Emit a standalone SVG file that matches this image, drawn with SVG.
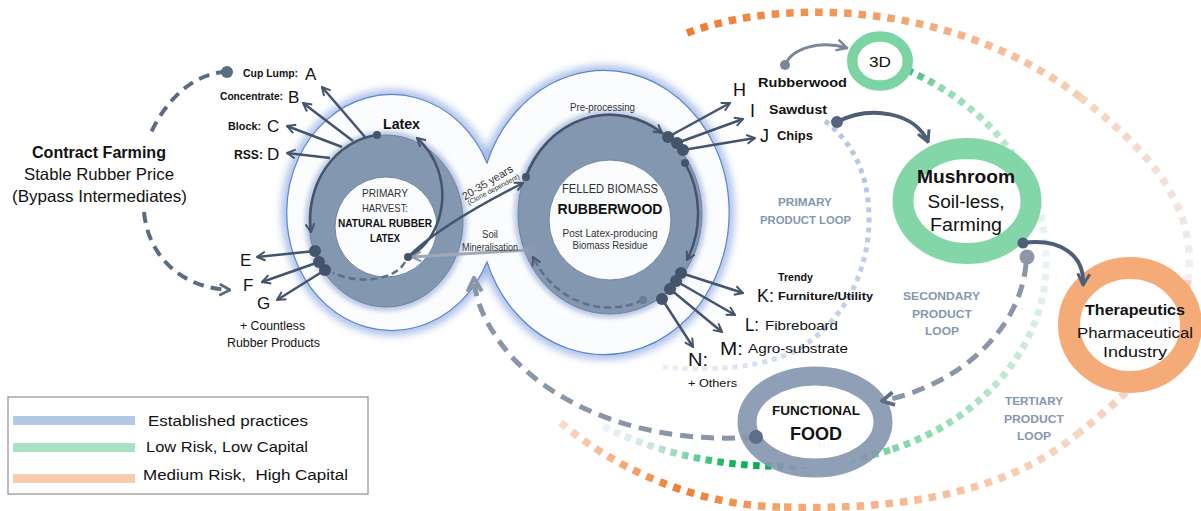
<svg xmlns="http://www.w3.org/2000/svg" width="1201" height="511" viewBox="0 0 1201 511">
<style>
text{font-family:"Liberation Sans",Arial,sans-serif;fill:#111}
.b{font-weight:bold}
.m{text-anchor:middle}
.grey{fill:#333}
.loop{font-weight:bold;fill:#8497b0;font-size:11px;text-anchor:middle}
.ln{fill:none;stroke:#44546a;stroke-width:2.5}
.dot{fill:#44546a}
</style>
<defs>
<filter id="glow" x="-20%" y="-20%" width="140%" height="140%"><feGaussianBlur stdDeviation="4"/></filter>
<filter id="glow2" x="-20%" y="-20%" width="140%" height="140%"><feGaussianBlur stdDeviation="2.5"/></filter>
<marker id="mDark" viewBox="0 0 10 10" refX="9" refY="5" markerWidth="11" markerHeight="11" markerUnits="userSpaceOnUse" orient="auto"><path d="M1.5,1 L9,5 L1.5,9" fill="none" stroke="#44546a" stroke-width="1.8"/></marker>
<marker id="mSlate" viewBox="0 0 10 10" refX="9" refY="5" markerWidth="15" markerHeight="15" markerUnits="userSpaceOnUse" orient="auto"><path d="M1.5,1 L9,5 L1.5,9" fill="none" stroke="#4f5e78" stroke-width="2"/></marker>
<marker id="mGrey" viewBox="0 0 10 10" refX="9" refY="5" markerWidth="18" markerHeight="18" markerUnits="userSpaceOnUse" orient="auto"><path d="M1.5,1 L9,5 L1.5,9" fill="none" stroke="#8a96a8" stroke-width="2.2"/></marker>
<marker id="mGrey2" viewBox="0 0 10 10" refX="9" refY="5" markerWidth="16" markerHeight="16" markerUnits="userSpaceOnUse" orient="auto"><path d="M1.5,1 L9,5 L1.5,9" fill="none" stroke="#5e6d85" stroke-width="2.4"/></marker>
<marker id="m3d" viewBox="0 0 10 10" refX="9" refY="5" markerWidth="14" markerHeight="14" markerUnits="userSpaceOnUse" orient="auto"><path d="M1.5,1 L9,5 L1.5,9" fill="none" stroke="#7a8699" stroke-width="1.8"/></marker>
<marker id="mSoil" viewBox="0 0 10 10" refX="9" refY="5" markerWidth="12" markerHeight="12" markerUnits="userSpaceOnUse" orient="auto"><path d="M1.5,1 L9,5 L1.5,9" fill="none" stroke="#8e99ab" stroke-width="1.8"/></marker>
<marker id="mCF" viewBox="0 0 10 10" refX="9" refY="5" markerWidth="14" markerHeight="14" markerUnits="userSpaceOnUse" orient="auto"><path d="M1.5,1 L9,5 L1.5,9" fill="none" stroke="#5b6b84" stroke-width="2"/></marker>
<linearGradient id="gBlue" gradientUnits="userSpaceOnUse" x1="850" y1="150" x2="660" y2="368"><stop offset="0" stop-color="#b4c7e7"/><stop offset="0.6" stop-color="#c8d6ee"/><stop offset="1" stop-color="#eaeff8"/></linearGradient>
<linearGradient id="gG1" gradientUnits="userSpaceOnUse" x1="907" y1="70" x2="1046" y2="250"><stop offset="0" stop-color="#3cb878"/><stop offset="0.15" stop-color="#8fdab0"/><stop offset="0.7" stop-color="#d3efe0"/><stop offset="1" stop-color="#eef4f6"/></linearGradient>
<linearGradient id="gG2" gradientUnits="userSpaceOnUse" x1="1046" y1="250" x2="890" y2="450"><stop offset="0" stop-color="#eef4f6"/><stop offset="0.5" stop-color="#bde7cf"/><stop offset="1" stop-color="#7fd6a3"/></linearGradient>
<linearGradient id="gG3" gradientUnits="userSpaceOnUse" x1="890" y1="0" x2="600" y2="0"><stop offset="0" stop-color="#7fd6a3"/><stop offset="0.45" stop-color="#00b050"/><stop offset="0.58" stop-color="#1eb862"/><stop offset="0.72" stop-color="#8fd8b6"/><stop offset="0.85" stop-color="#d3e8ea"/><stop offset="1" stop-color="#eef2fa"/></linearGradient>
<linearGradient id="gO1" gradientUnits="userSpaceOnUse" x1="687" y1="0" x2="1080" y2="0"><stop offset="0" stop-color="#ed7d31"/><stop offset="0.45" stop-color="#f09d62"/><stop offset="1" stop-color="#f6cfb6"/></linearGradient>
<linearGradient id="gO2" gradientUnits="userSpaceOnUse" x1="0" y1="97" x2="0" y2="280"><stop offset="0" stop-color="#f6d3bd"/><stop offset="1" stop-color="#eff0f5"/></linearGradient>
<linearGradient id="gO3" gradientUnits="userSpaceOnUse" x1="1080" y1="0" x2="780" y2="0"><stop offset="0" stop-color="#f8d8c4"/><stop offset="1" stop-color="#f3a46d"/></linearGradient>
<linearGradient id="gO4" gradientUnits="userSpaceOnUse" x1="780" y1="0" x2="560" y2="0"><stop offset="0" stop-color="#f3a46d"/><stop offset="0.45" stop-color="#ed7d31"/><stop offset="1" stop-color="#f9dccb"/></linearGradient>
</defs>

<rect width="1201" height="511" fill="#ffffff"/>

<g id="infinity-background">
<path d="M487,163 A105,118 0 1 0 487,262 A125,142 0 1 0 487,163 Z" fill="none" stroke="#9db5e3" stroke-width="9" filter="url(#glow)"/>
<path d="M487,163 A105,118 0 1 0 487,262 A125,142 0 1 0 487,163 Z" fill="#fbfcfe" stroke="#5b84cc" stroke-width="1.2"/>
</g>

<g id="loops" fill="none">
<path d="M825,121 C850,140 868,170 869,215 C870,270 845,320 800,348 C770,366 720,372 662,367" stroke="url(#gBlue)" stroke-width="5" stroke-dasharray="5 5"/>
<path d="M907,70 C975,100 1040,160 1046,250" stroke="url(#gG1)" stroke-width="7" stroke-dasharray="6.5 5.5"/>
<path d="M1046,250 C1052,340 985,420 890,450" stroke="url(#gG2)" stroke-width="7" stroke-dasharray="6.5 5.5"/>
<path d="M890,450 C800,478 690,470 600,425" stroke="url(#gG3)" stroke-width="7" stroke-dasharray="6.5 5.5"/>
<path d="M687,33 C790,-5 960,5 1080,97" stroke="url(#gO1)" stroke-width="7.5" stroke-dasharray="7.5 7"/>
<path d="M1080,97 C1175,170 1195,225 1188,280" stroke="url(#gO2)" stroke-width="7.5" stroke-dasharray="7.5 7"/>
<path d="M1188,280 C1180,340 1140,385 1080,432" stroke="#f5d2bc" stroke-width="7.5" stroke-dasharray="7.5 7"/>
<path d="M1080,432 C1000,500 880,510 780,507" stroke="url(#gO3)" stroke-width="7.5" stroke-dasharray="7.5 7"/>
<path d="M780,507 C690,505 610,465 560,422" stroke="url(#gO4)" stroke-width="7.5" stroke-dasharray="7.5 7"/>
</g>

<g id="latex-ring">
<ellipse cx="386" cy="221" rx="78" ry="87" fill="none" stroke="#a9bbdc" stroke-width="5" filter="url(#glow2)"/>
<path d="M309,221 a77,86 0 1,0 154,0 a77,86 0 1,0 -154,0 Z M335,227 a51,50 0 1,0 102,0 a51,50 0 1,0 -102,0 Z" fill="#8497b0" fill-rule="evenodd" stroke="#6f82a0" stroke-width="1"/>
<text x="385" y="197" font-size="11.5" class="m grey" textLength="46" lengthAdjust="spacingAndGlyphs">PRIMARY</text>
<text x="385" y="212" font-size="11.5" class="m grey" textLength="46" lengthAdjust="spacingAndGlyphs">HARVEST:</text>
<text x="385" y="227" font-size="11.5" class="m b" textLength="94" lengthAdjust="spacingAndGlyphs">NATURAL RUBBER</text>
<text x="385" y="242" font-size="11.5" class="m b" textLength="30" lengthAdjust="spacingAndGlyphs">LATEX</text>
</g>

<g id="rubberwood-ring">
<ellipse cx="610" cy="214" rx="93" ry="101" fill="none" stroke="#a9bbdc" stroke-width="5" filter="url(#glow2)"/>
<path d="M518,214 a92,100 0 1,0 184,0 a92,100 0 1,0 -184,0 Z M549,220 a61,60 0 1,0 122,0 a61,60 0 1,0 -122,0 Z" fill="#8497b0" fill-rule="evenodd" stroke="#6f82a0" stroke-width="1"/>
<text x="610" y="192.5" font-size="12" class="m grey" textLength="96" lengthAdjust="spacingAndGlyphs">FELLED BIOMASS</text>
<text x="610" y="213.5" font-size="15" class="m b" textLength="105" lengthAdjust="spacingAndGlyphs">RUBBERWOOD</text>
<text x="610" y="236.5" font-size="10.5" class="m grey" textLength="95" lengthAdjust="spacingAndGlyphs">Post Latex-producing</text>
<text x="610" y="248.5" font-size="10.5" class="m grey" textLength="75" lengthAdjust="spacingAndGlyphs">Biomass Residue</text>
</g>

<g id="node-3d">
<ellipse cx="880" cy="61" rx="27.8" ry="24.5" fill="#ffffff" stroke="#7bd4a2" stroke-width="10.5"/>
<text x="880" y="67" font-size="14" class="m" textLength="22" lengthAdjust="spacingAndGlyphs">3D</text>
</g>

<g id="node-mushroom">
<ellipse cx="967" cy="201" rx="64" ry="52.5" fill="#ffffff" stroke="#7bd4a2" stroke-width="21" stroke-opacity="0.95"/>
<text x="966" y="183" font-size="18" class="m b" textLength="98" lengthAdjust="spacingAndGlyphs">Mushroom</text>
<text x="966" y="208" font-size="17.5" class="m" textLength="77" lengthAdjust="spacingAndGlyphs">Soil-less,</text>
<text x="966" y="231" font-size="17.5" class="m" textLength="72" lengthAdjust="spacingAndGlyphs">Farming</text>
</g>

<g id="node-therapeutics">
<ellipse cx="1130" cy="325" rx="61" ry="57" fill="#ffffff" stroke="#f4a874" stroke-width="22" stroke-opacity="0.97"/>
<text x="1135" y="315" font-size="15.5" class="m b" textLength="100" lengthAdjust="spacingAndGlyphs">Therapeutics</text>
<text x="1135" y="338" font-size="15.5" class="m" textLength="116" lengthAdjust="spacingAndGlyphs">Pharmaceutical</text>
<text x="1135" y="357" font-size="15.5" class="m" textLength="64" lengthAdjust="spacingAndGlyphs">Industry</text>
</g>

<g id="node-food">
<ellipse cx="815" cy="422" rx="68" ry="46" fill="#ffffff" stroke="#8497b0" stroke-width="19" stroke-opacity="0.92"/>
<text x="816" y="415" font-size="12.5" class="m b" textLength="88" lengthAdjust="spacingAndGlyphs">FUNCTIONAL</text>
<text x="816" y="440" font-size="19" class="m b" textLength="52" lengthAdjust="spacingAndGlyphs">FOOD</text>
</g>

<g id="connectors">
<!-- contract farming dashed loop -->
<path d="M227,72 C195,72 165,100 150,135" fill="none" stroke="#5b6b84" stroke-width="4" stroke-dasharray="11 7"/>
<path d="M144,212 C148,255 180,288 230,290" fill="none" stroke="#5b6b84" stroke-width="4" stroke-dasharray="11 7" marker-end="url(#mCF)"/>
<circle cx="227" cy="72" r="6" fill="#5b6b84"/>
<!-- left ring arrows A-D -->
<path class="ln" d="M365,137 L322,87" marker-end="url(#mDark)"/>
<path class="ln" d="M353,141 L303,103" marker-end="url(#mDark)"/>
<path class="ln" d="M342,147 L287,126" marker-end="url(#mDark)"/>
<path class="ln" d="M330,158 L287,153" marker-end="url(#mDark)"/>
<path class="ln" d="M377,135 A76,85 0 0 0 311,232" marker-end="url(#mDark)"/>
<path class="ln" d="M408,257 C445,240 458,175 417,138" marker-end="url(#mDark)"/>
<path d="M405,262 C395,280 360,285 333,273" fill="none" stroke="#5f6f88" stroke-width="2.5" stroke-dasharray="7 4"/>
<circle class="dot" cx="377" cy="135" r="4"/>
<!-- E F G -->
<path class="ln" d="M315,251 L257,257" marker-end="url(#mDark)"/>
<path class="ln" d="M319,262 L262,282" marker-end="url(#mDark)"/>
<path class="ln" d="M325,270 L277,300" marker-end="url(#mDark)"/>
<circle class="dot" cx="315" cy="251" r="6"/>
<circle class="dot" cx="319" cy="262" r="6"/>
<circle class="dot" cx="325" cy="270" r="6"/>
<!-- 20-35 years -->
<path class="ln" d="M408,257 Q440,225 523,183" marker-end="url(#mDark)"/>
<!-- soil mineralisation -->
<path d="M528,250 L412,257" fill="none" stroke="#9ea8b8" stroke-width="3" marker-end="url(#mSoil)"/>
<circle cx="530" cy="251" r="6" fill="#8d9ab0" fill-opacity="0.8"/>
<circle class="dot" cx="408" cy="257" r="4"/>
<!-- right ring arcs -->
<path class="ln" d="M526,177 A90,98 0 0 1 662,133" marker-end="url(#mDark)"/>
<circle class="dot" cx="526" cy="177" r="4"/>
<path class="ln" d="M685,163 A88,96 0 0 1 687,260" marker-end="url(#mDark)"/>
<circle class="dot" cx="685" cy="163" r="4"/>
<path d="M643,300 A86,94 0 0 1 533,257" fill="none" stroke="#5f6f88" stroke-width="2.5" stroke-dasharray="7 4" marker-end="url(#mDark)"/>
<circle cx="643" cy="300" r="4" fill="#6b7b94"/>
<!-- H I J -->
<path class="ln" d="M668,137 L730,103" marker-end="url(#mDark)"/>
<path class="ln" d="M677,143 L743,119" marker-end="url(#mDark)"/>
<path class="ln" d="M683,150 L755,138" marker-end="url(#mDark)"/>
<circle class="dot" cx="668" cy="137" r="6"/>
<circle class="dot" cx="677" cy="143" r="6"/>
<circle class="dot" cx="683" cy="150" r="6"/>
<!-- K L M N -->
<path class="ln" d="M681,273 L743,293" marker-end="url(#mDark)"/>
<path class="ln" d="M676,281 L735,315" marker-end="url(#mDark)"/>
<path class="ln" d="M670,289 L722,332" marker-end="url(#mDark)"/>
<path class="ln" d="M662,299 L693,347" marker-end="url(#mDark)"/>
<circle class="dot" cx="681" cy="273" r="6"/>
<circle class="dot" cx="676" cy="281" r="6"/>
<circle class="dot" cx="670" cy="289" r="6"/>
<circle class="dot" cx="662" cy="299" r="6"/>
<!-- 3D arrow -->
<path d="M785,65 C792,48 820,40 847,48" fill="none" stroke="#7a8699" stroke-width="3" marker-end="url(#m3d)"/>
<circle cx="785" cy="65" r="5" fill="#7a8699"/>
<!-- sawdust to mushroom -->
<path d="M837,122 C870,105 915,112 928,142" fill="none" stroke="#4f5e78" stroke-width="4" marker-end="url(#mSlate)"/>
<circle cx="837" cy="122" r="6" fill="#55637d"/>
<!-- mushroom to therapeutics -->
<path d="M1023,243 C1060,238 1085,255 1083,285" fill="none" stroke="#4f5e78" stroke-width="4" marker-end="url(#mSlate)"/>
<!-- mushroom to food dashed -->
<path d="M1026,264 C1020,330 960,385 882,401" fill="none" stroke="#8a96a8" stroke-width="5" stroke-dasharray="13 8" marker-end="url(#mGrey2)"/>
<circle cx="1027" cy="257" r="7.5" fill="#8d97a8"/>
<circle cx="1023" cy="243" r="5.5" fill="#4f5e78"/>
<!-- food back to soil -->
<path d="M756,437 C650,445 560,410 510,355 C485,325 475,300 474,278" fill="none" stroke="#8a96a8" stroke-width="5" stroke-dasharray="13 8" marker-end="url(#mGrey)"/>
<circle cx="756" cy="437" r="7" fill="#5d6e88"/>
</g>

<g id="labels-left">
<text x="99" y="158" font-size="16" class="m b" textLength="134" lengthAdjust="spacingAndGlyphs">Contract Farming</text>
<text x="99" y="180" font-size="16.5" class="m" textLength="150" lengthAdjust="spacingAndGlyphs">Stable Rubber Price</text>
<text x="99.5" y="202" font-size="16.5" class="m" textLength="175" lengthAdjust="spacingAndGlyphs">(Bypass Intermediates)</text>
<text x="243" y="77" font-size="10.5" class="b" textLength="55" lengthAdjust="spacingAndGlyphs">Cup Lump:</text>
<text x="305" y="80" font-size="17">A</text>
<text x="220" y="100" font-size="10.5" class="b" textLength="63" lengthAdjust="spacingAndGlyphs">Concentrate:</text>
<text x="288" y="103" font-size="17">B</text>
<text x="228" y="130" font-size="11.5" class="b" textLength="33" lengthAdjust="spacingAndGlyphs">Block:</text>
<text x="267" y="132" font-size="17">C</text>
<text x="234" y="159" font-size="13" class="b" textLength="29" lengthAdjust="spacingAndGlyphs">RSS:</text>
<text x="267" y="160" font-size="17">D</text>
<text x="240" y="266" font-size="17">E</text>
<text x="243" y="291" font-size="17">F</text>
<text x="257" y="309" font-size="17">G</text>
<text x="272.5" y="330" font-size="12.5" class="m" textLength="65" lengthAdjust="spacingAndGlyphs">+ Countless</text>
<text x="273.5" y="347" font-size="12.5" class="m" textLength="93" lengthAdjust="spacingAndGlyphs">Rubber Products</text>
<text x="383" y="129" font-size="14.5" class="b" textLength="37" lengthAdjust="spacingAndGlyphs">Latex</text>
</g>

<g id="labels-center">
<text transform="translate(489.4,185.7) rotate(-31)" font-size="11" class="m grey" textLength="57" lengthAdjust="spacingAndGlyphs">20-35 years</text>
<text transform="translate(494.5,191.5) rotate(-28)" font-size="7" class="m grey" textLength="58" lengthAdjust="spacingAndGlyphs">(Clone dependent)</text>
<text x="490" y="237.5" font-size="10" class="m grey" textLength="16" lengthAdjust="spacingAndGlyphs">Soil</text>
<text x="490" y="251" font-size="10" class="m grey" textLength="56" lengthAdjust="spacingAndGlyphs">Mineralisation</text>
<text x="602.5" y="111" font-size="10.5" class="m grey" textLength="65" lengthAdjust="spacingAndGlyphs">Pre-processing</text>
</g>

<g id="labels-right">
<text x="733" y="96" font-size="18">H</text>
<text x="750" y="117" font-size="18">I</text>
<text x="760" y="142" font-size="18">J</text>
<text x="758" y="87" font-size="13" class="b" textLength="89" lengthAdjust="spacingAndGlyphs">Rubberwood</text>
<text x="769" y="114" font-size="13" class="b" textLength="58" lengthAdjust="spacingAndGlyphs">Sawdust</text>
<text x="777" y="140" font-size="13" class="b" textLength="36" lengthAdjust="spacingAndGlyphs">Chips</text>
<text x="778" y="281" font-size="10" class="b" textLength="35" lengthAdjust="spacingAndGlyphs">Trendy</text>
<text x="757" y="302" font-size="18.5" textLength="17" lengthAdjust="spacingAndGlyphs">K:</text>
<text x="778" y="300" font-size="11.5" class="b" textLength="95" lengthAdjust="spacingAndGlyphs">Furniture/Utility</text>
<text x="745" y="331" font-size="18.5" textLength="14" lengthAdjust="spacingAndGlyphs">L:</text>
<text x="765" y="330" font-size="13.5" textLength="73" lengthAdjust="spacingAndGlyphs">Fibreboard</text>
<text x="720" y="355" font-size="18.5" textLength="23" lengthAdjust="spacingAndGlyphs">M:</text>
<text x="748" y="353" font-size="13.5" textLength="100" lengthAdjust="spacingAndGlyphs">Agro-substrate</text>
<text x="688" y="366" font-size="18.5" textLength="20" lengthAdjust="spacingAndGlyphs">N:</text>
<text x="688" y="387" font-size="11.5" textLength="49" lengthAdjust="spacingAndGlyphs">+ Others</text>
</g>

<g id="loop-labels">
<text x="805" y="206" class="loop" textLength="54" lengthAdjust="spacingAndGlyphs">PRIMARY</text>
<text x="805.5" y="224" class="loop" textLength="91" lengthAdjust="spacingAndGlyphs">PRODUCT LOOP</text>
<text x="941.5" y="300" class="loop" textLength="77" lengthAdjust="spacingAndGlyphs">SECONDARY</text>
<text x="942" y="317.5" class="loop" textLength="60" lengthAdjust="spacingAndGlyphs">PRODUCT</text>
<text x="942" y="335" class="loop" textLength="34" lengthAdjust="spacingAndGlyphs">LOOP</text>
<text x="1034" y="405" class="loop" textLength="58" lengthAdjust="spacingAndGlyphs">TERTIARY</text>
<text x="1034" y="422.5" class="loop" textLength="60" lengthAdjust="spacingAndGlyphs">PRODUCT</text>
<text x="1034" y="440" class="loop" textLength="34" lengthAdjust="spacingAndGlyphs">LOOP</text>
</g>

<g id="legend">
<rect x="8" y="397" width="360" height="97" fill="#ffffff" stroke="#a6a6a6" stroke-width="1.5"/>
<rect x="13" y="416" width="122" height="9" fill="#b4c7e7"/>
<rect x="13" y="443" width="122" height="9" fill="#a9e2c2"/>
<rect x="13" y="474" width="122" height="9" fill="#f8cbad"/>
<text x="148" y="426" font-size="15.5" textLength="160" lengthAdjust="spacingAndGlyphs">Established practices</text>
<text x="146" y="452" font-size="15.5" textLength="162" lengthAdjust="spacingAndGlyphs">Low Risk, Low Capital</text>
<text x="143" y="480" font-size="15.5" textLength="205" lengthAdjust="spacingAndGlyphs" style="white-space:pre">Medium Risk,  High Capital</text>
</g>
</svg>
